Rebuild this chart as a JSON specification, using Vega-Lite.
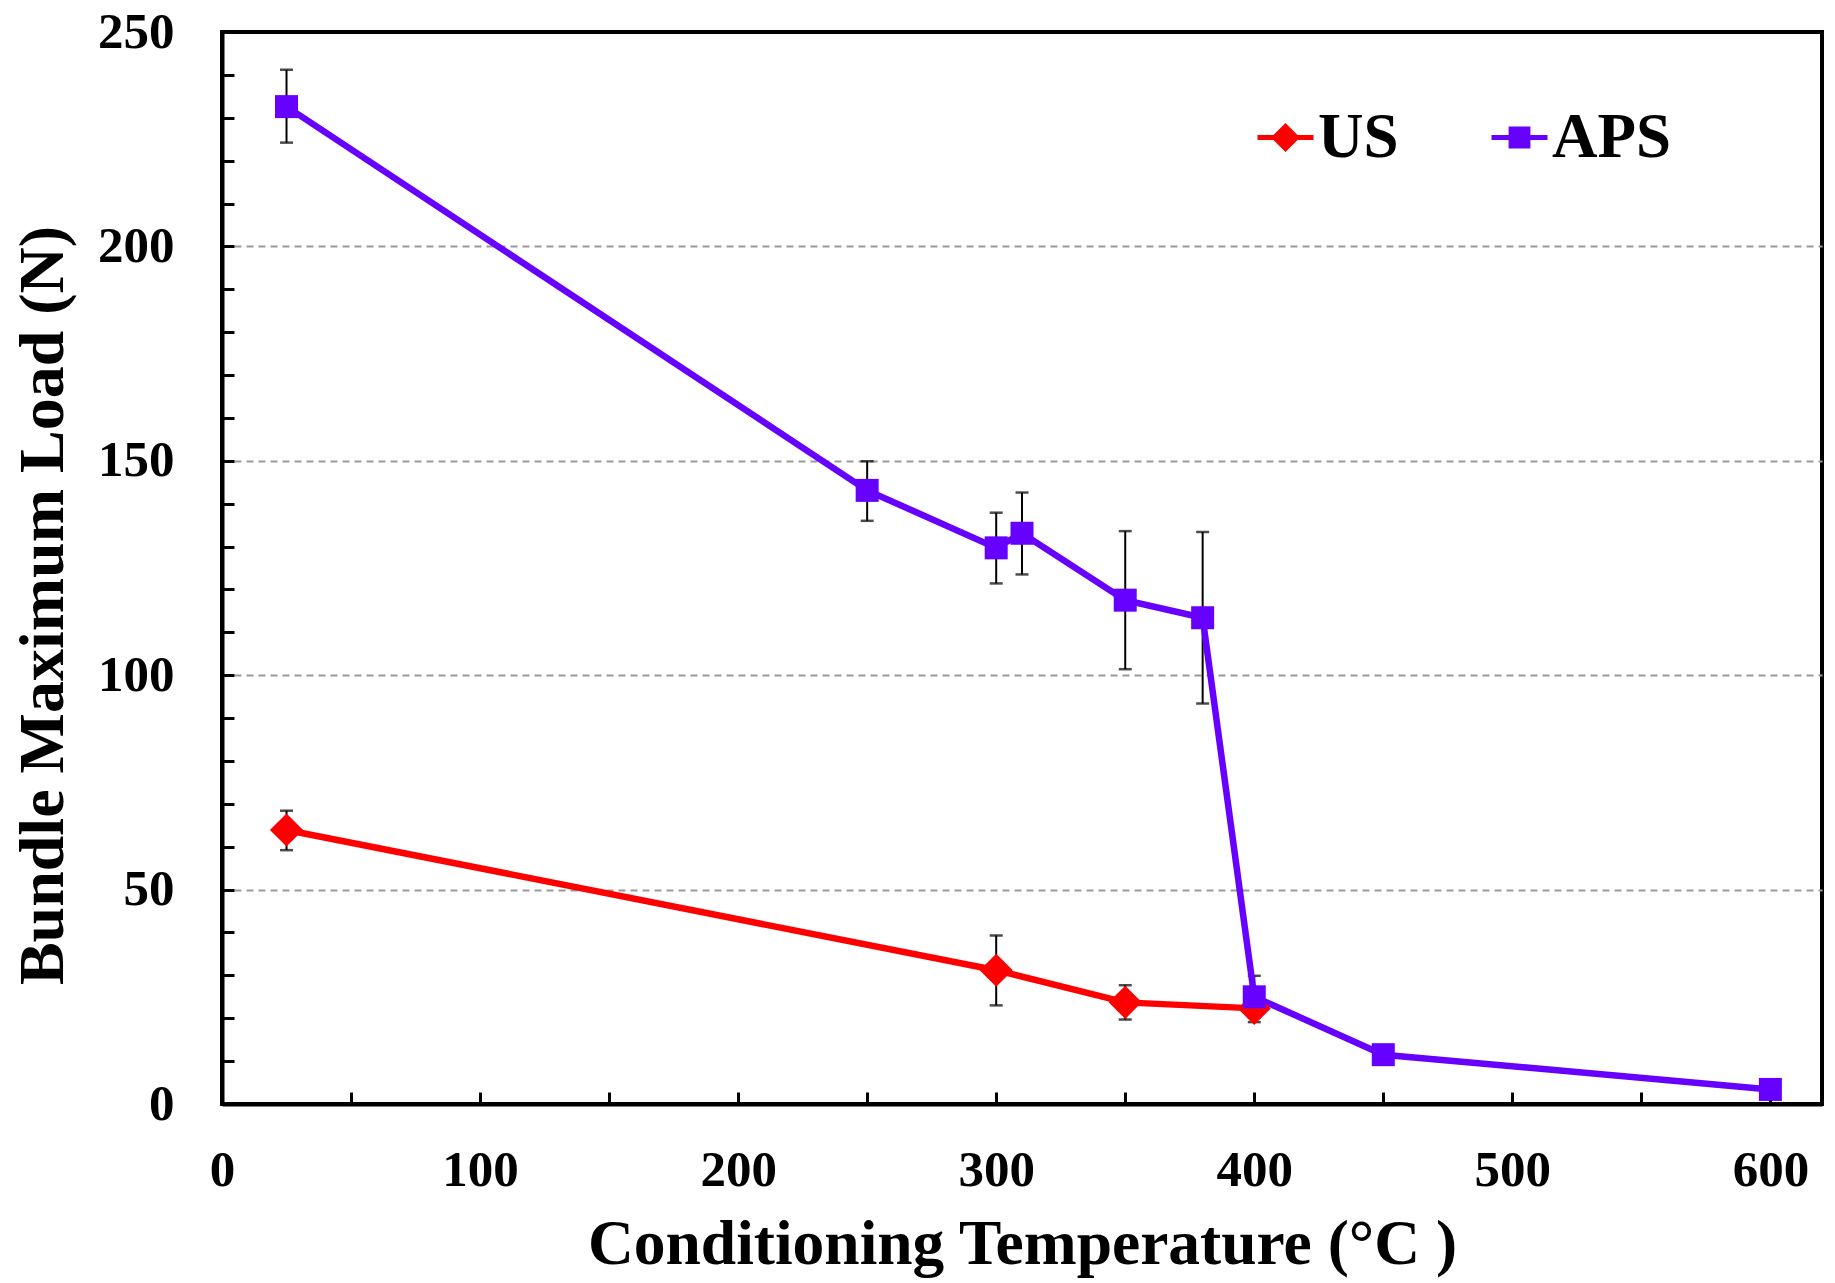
{
  "$schema": "https://vega.github.io/schema/vega-lite/v6.json",
  "width": 1600,
  "height": 1072,
  "autosize": {"type": "none"},
  "padding": {"left": 222, "top": 32, "right": 13, "bottom": 179},
  "background": "white",
  "config": {
    "view": {"stroke": "black", "strokeWidth": 4},
    "font": "Liberation Serif",
    "axis": {
      "labelFont": "Liberation Serif",
      "labelFontWeight": "bold",
      "labelColor": "black",
      "titleFont": "Liberation Serif",
      "titleFontWeight": "bold",
      "titleColor": "black",
      "domainColor": "black",
      "domainWidth": 4,
      "tickColor": "black",
      "tickWidth": 3,
      "labelFlush": false,
      "labelOverlap": false,
      "labelBound": false
    },
    "legend": {
      "title": null,
      "orient": "none",
      "padding": 0,
      "labelFont": "Liberation Serif",
      "labelFontWeight": "bold",
      "labelFontSize": 63,
      "labelColor": "black",
      "labelOffset": 1,
      "symbolSize": 3136,
      "symbolStrokeWidth": 0,
      "symbolOpacity": 1
    }
  },
  "data": {
    "values": [
      {"series": "US", "temp": 25, "load": 63.9, "lo": 59.2, "hi": 68.4},
      {"series": "US", "temp": 300, "load": 31.2, "lo": 23.0, "hi": 39.3},
      {"series": "US", "temp": 350, "load": 23.7, "lo": 19.7, "hi": 27.7},
      {"series": "US", "temp": 400, "load": 22.3, "lo": 19.1, "hi": 25.5},
      {"series": "APS", "temp": 25, "load": 232.6, "lo": 224.2, "hi": 241.2},
      {"series": "APS", "temp": 250, "load": 143.1, "lo": 136.0, "hi": 149.9},
      {"series": "APS", "temp": 300, "load": 129.7, "lo": 121.4, "hi": 137.9},
      {"series": "APS", "temp": 310, "load": 133.1, "lo": 123.5, "hi": 142.6},
      {"series": "APS", "temp": 350, "load": 117.5, "lo": 101.4, "hi": 133.6},
      {"series": "APS", "temp": 380, "load": 113.4, "lo": 93.4, "hi": 133.4},
      {"series": "APS", "temp": 400, "load": 25.0, "lo": 20.1, "hi": 29.9},
      {"series": "APS", "temp": 450, "load": 11.5, "lo": null, "hi": null},
      {"series": "APS", "temp": 600, "load": 3.4, "lo": null, "hi": null}
    ]
  },
  "encoding": {
    "x": {
      "field": "temp",
      "type": "quantitative",
      "scale": {"domain": [0, 620], "nice": false},
      "axis": {
        "title": "Conditioning Temperature (°C )",
        "titleFontSize": 63.5,
        "titleBaseline": "alphabetic",
        "titleY": 159,
        "values": [0, 50, 100, 150, 200, 250, 300, 350, 400, 450, 500, 550, 600],
        "labelExpr": "datum.value % 100 === 0 ? datum.label : ''",
        "labelFontSize": 51,
        "labelBaseline": "alphabetic",
        "tickSize": -12,
        "labelPadding": 93,
        "grid": false
      }
    },
    "y": {
      "field": "load",
      "type": "quantitative",
      "scale": {"domain": [0, 250], "nice": false},
      "axis": {
        "title": "Bundle Maximum Load (N)",
        "titleFontSize": 64,
        "titleBaseline": "alphabetic",
        "titleX": -160,
        "titleY": 573,
        "values": [0, 10, 20, 30, 40, 50, 60, 70, 80, 90, 100, 110, 120, 130, 140, 150, 160, 170, 180, 190, 200, 210, 220, 230, 240, 250],
        "labelExpr": "datum.value % 50 === 0 ? datum.label : ''",
        "labelFontSize": 51,
        "tickSize": -12,
        "labelPadding": 60,
        "grid": true,
        "gridColor": "#999999",
        "gridWidth": 2,
        "gridDash": [7, 5],
        "gridOpacity": {"condition": {"test": "datum.value % 50 === 0 && datum.value > 0 && datum.value < 250", "value": 1}, "value": 0}
      }
    }
  },
  "layer": [
    {
      "transform": [{"filter": "datum.lo != null"}],
      "mark": {"type": "rule", "color": "black", "strokeWidth": 2},
      "encoding": {"y": {"field": "lo", "type": "quantitative"}, "y2": {"field": "hi"}}
    },
    {
      "transform": [{"filter": "datum.lo != null"}],
      "mark": {"type": "tick", "orient": "horizontal", "color": "black", "size": 13, "thickness": 2.5},
      "encoding": {"y": {"field": "lo", "type": "quantitative"}}
    },
    {
      "transform": [{"filter": "datum.hi != null"}],
      "mark": {"type": "tick", "orient": "horizontal", "color": "black", "size": 13, "thickness": 2.5},
      "encoding": {"y": {"field": "hi", "type": "quantitative"}}
    },
    {
      "mark": {"type": "line", "strokeWidth": 6.5},
      "encoding": {
        "color": {
          "field": "series",
          "type": "nominal",
          "scale": {"domain": ["US", "APS"], "range": ["#FF0000", "#6600FF"]},
          "legend": null
        }
      }
    },
    {
      "transform": [{"filter": "datum.series === 'US'"}],
      "mark": {"type": "point", "shape": "diamond", "filled": true, "opacity": 1, "size": 1100, "color": "#FF0000"}
    },
    {
      "transform": [{"filter": "datum.series === 'APS'"}],
      "mark": {"type": "point", "shape": "square", "filled": true, "opacity": 1, "size": 529, "color": "#6600FF"}
    },
    {
      "transform": [{"filter": "datum.temp < 0"}],
      "mark": {"type": "point", "filled": true, "opacity": 1, "size": 3136, "strokeWidth": 0},
      "encoding": {
        "color": {
          "field": "series",
          "type": "nominal",
          "scale": {"domain": ["US"], "range": ["#FF0000"]},
          "legend": {
            "legendX": 1032,
            "legendY": 74,
            "symbolType": "M-1,-0.09H1V0.09H-1ZM-0.52,0L0,-0.52L0.52,0L0,0.52Z"
          }
        }
      }
    },
    {
      "transform": [{"filter": "datum.temp < 0"}],
      "mark": {"type": "point", "filled": true, "opacity": 1, "size": 3136, "strokeWidth": 0},
      "encoding": {
        "color": {
          "field": "series",
          "type": "nominal",
          "scale": {"domain": ["APS"], "range": ["#6600FF"]},
          "legend": {
            "legendX": 1266,
            "legendY": 74,
            "symbolType": "M-1,-0.09H1V0.09H-1ZM-0.39,-0.39H0.39V0.39H-0.39Z"
          }
        }
      }
    }
  ],
  "resolve": {"scale": {"color": "independent"}, "legend": {"color": "independent"}}
}
